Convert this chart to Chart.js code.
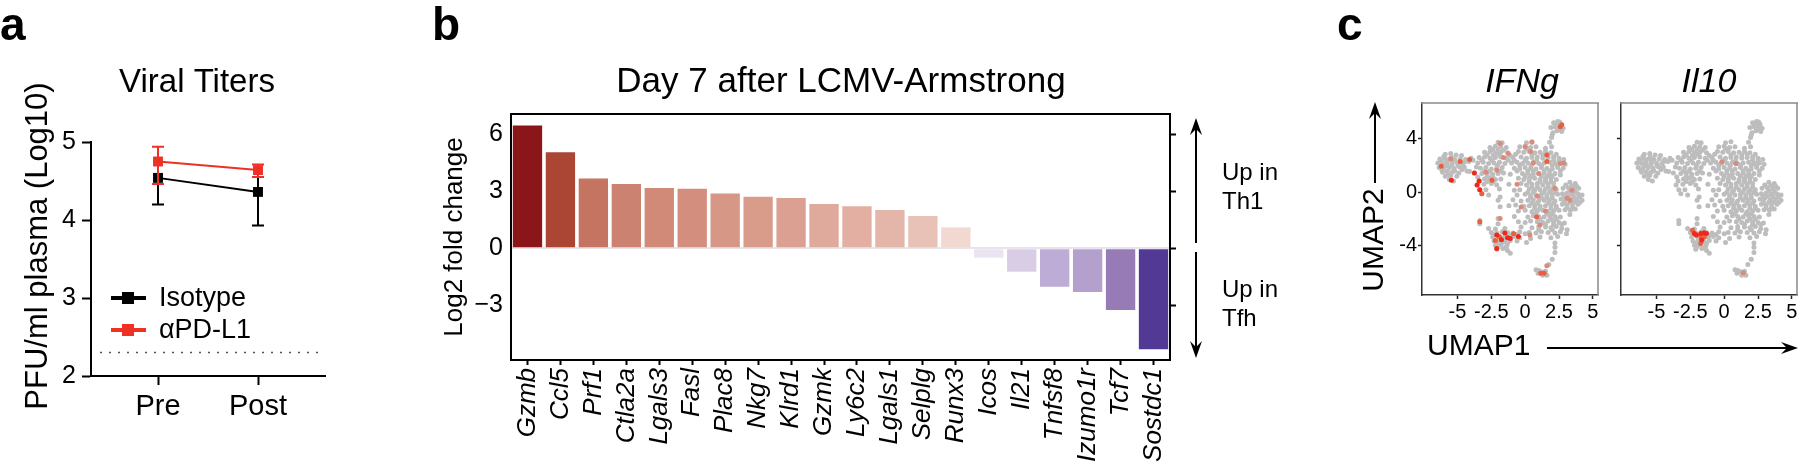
<!DOCTYPE html>
<html>
<head>
<meta charset="utf-8">
<script src="https://cdn.jsdelivr.net/npm/chart.js@4.4.1/dist/chart.umd.min.js"></script>
<style>
  html, body { margin: 0; padding: 0; background: #fff; overflow: hidden; }
  #page { position: relative; width: 1800px; height: 470px; }
  canvas { position: absolute; top: 0; }
</style>
</head>
<body>
<div id="page">
  <canvas id="chartA" width="340" height="470" style="left:0px"></canvas>
  <canvas id="chartB" width="900" height="470" style="left:430px"></canvas>
  <canvas id="chartC1" width="470" height="470" style="left:1330px"></canvas>
  <canvas id="chartC2" width="200" height="470" style="left:1610px"></canvas>
</div>
<script>
// ---- panel a: viral titers ----
const timePoints = ['Pre', 'Post'];
const isotypeMean = [4.54, 4.36];
const isotypeLow = [4.20, 3.93];
const isotypeHigh = [4.54, 4.55];
const antiPdl1Mean = [4.75, 4.64];
const antiPdl1Low = [4.46, 4.55];
const antiPdl1High = [4.94, 4.71];
const detectionLimit = 2.3;
const titerTicks = [2, 3, 4, 5];

// ---- panel b: log2 fold change Th1 vs Tfh ----
const genes = ['Gzmb', 'Ccl5', 'Prf1', 'Ctla2a', 'Lgals3', 'Fasl', 'Plac8', 'Nkg7', 'Klrd1', 'Gzmk',
  'Ly6c2', 'Lgals1', 'Selplg', 'Runx3', 'Icos', 'Il21', 'Tnfsf8', 'Izumo1r', 'Tcf7', 'Sostdc1'];
const log2fc = [6.47, 5.05, 3.67, 3.38, 3.17, 3.14, 2.88, 2.72, 2.65, 2.33,
  2.21, 2.02, 1.70, 1.10, -0.49, -1.23, -2.02, -2.30, -3.25, -5.32];
const barColors = ['#8A1619', '#AA4633', '#C47461', '#CC8270', '#D18A78', '#D38E7D', '#D69786', '#D99C8B', '#DBA092', '#DFAA9C',
  '#E2AFA2', '#E4B5A9', '#E8C1B7', '#F1D9D2', '#EAE4F0', '#D8CDE4', '#BDACD5', '#B4A0CC', '#977BB6', '#533996'];
const foldTicks = [-3, 0, 3, 6];

// ---- panel c: UMAP ----
const umapXTicks = [-5, -2.5, 0, 2.5, 5];
const umapYTicks = [-4, 0, 4];
const umapCells = [
  // left lobe
  [-5.9,2.85],[-5.5,2.9],[-5.1,2.8],[-4.7,2.75],
  [-6.3,2.5],[-5.95,2.55],[-5.6,2.5],[-5.2,2.45],[-4.8,2.5],[-4.4,2.45],[-4.0,2.55],
  [-6.45,2.2],[-6.1,2.15],[-5.75,2.2],[-5.4,2.1],[-5.0,2.2],[-4.6,2.15],[-4.15,2.3],[-3.85,2.4],
  [-6.35,1.85],[-6.0,1.8],[-5.6,1.85],[-5.25,1.8],[-4.85,1.9],[-4.5,1.9],
  [-6.1,1.5],[-5.75,1.55],[-5.4,1.5],[-4.9,1.45],[-4.3,1.6],
  [-5.9,1.2],[-5.5,1.25],[-5.05,1.2],[-5.6,0.95],[-5.3,0.85],
  [-6.2,2.35],[-5.8,2.35],[-5.35,2.3],[-4.95,2.0],[-5.45,2.65],[-6.15,1.65],[-5.8,2.0],[-5.2,1.6],[-4.65,1.7],[-5.7,1.3],[-6.0,2.7],[-4.45,2.3],
  // bridge
  [-3.75,1.45],[-4.1,1.55],[-3.5,1.15],[-3.55,0.55],[-3.35,0.2],[-3.2,-0.1],[-3.4,0.85],[-3.6,1.9],
  // main body
  [-2.0,3.75],[-1.7,3.7],[0.1,3.7],[0.5,3.78],
  [-2.6,3.35],[-2.2,3.45],[-1.8,3.4],[-1.4,3.35],[-0.4,3.4],[0.0,3.45],[0.4,3.35],[0.8,3.4],[1.5,3.3],[1.95,3.4],
  [-3.0,3.0],[-2.6,3.05],[-2.2,2.95],[-1.8,3.0],[-1.3,2.95],[-0.5,3.05],[-0.1,3.0],[0.3,3.05],[0.7,2.95],[1.1,3.0],[1.5,3.05],[1.9,2.95],[2.3,2.85],
  [-3.4,2.6],[-3.0,2.65],[-2.6,2.55],[-2.2,2.6],[-1.8,2.65],[-1.4,2.55],[-0.9,2.6],[-0.3,2.65],[0.1,2.55],[0.5,2.6],[0.9,2.65],[1.3,2.55],[1.7,2.6],[2.1,2.65],[2.5,2.55],[2.85,2.45],
  [-3.5,2.2],[-3.1,2.25],[-2.7,2.15],[-2.3,2.2],[-1.9,2.25],[-1.5,2.15],[-1.0,2.2],[-0.6,2.25],[-0.2,2.15],[0.2,2.2],[0.6,2.25],[1.0,2.15],[1.4,2.2],[1.8,2.25],[2.2,2.15],[2.6,2.2],[2.95,2.1],
  [-3.3,1.8],[-2.9,1.85],[-2.5,1.75],[-2.1,1.8],[-1.7,1.85],[-0.8,1.8],[-0.4,1.75],[0.0,1.85],[0.4,1.8],[0.8,1.75],[1.2,1.85],[1.6,1.8],[2.0,1.75],[2.4,1.85],[2.8,1.8],
  [-3.2,1.4],[-2.8,1.45],[-2.4,1.35],[-2.0,1.4],[-1.6,1.45],[-1.1,1.35],[-0.2,1.4],[0.2,1.45],[0.6,1.35],[1.0,1.4],[1.4,1.45],[1.8,1.35],[2.2,1.4],[2.6,1.3],
  [-3.0,1.0],[-2.6,1.05],[-2.2,0.95],[-1.8,1.0],[-0.5,1.05],[-0.1,0.95],[0.3,1.0],[0.7,1.05],[1.1,0.95],[1.5,1.0],[1.9,1.05],[2.3,0.95],
  [-3.05,0.6],[-2.5,0.65],[-2.1,0.55],[-1.2,0.6],[-0.3,0.65],[0.1,0.55],[0.5,0.6],[0.9,0.65],[1.3,0.55],[1.7,0.6],[2.1,0.65],
  [-2.9,0.2],[-1.9,0.25],[-0.8,0.15],[-0.4,0.2],[0.3,0.25],[0.7,0.15],[1.1,0.2],[1.5,0.25],[1.9,0.15],[2.3,0.2],
  [-2.7,-0.2],[-1.85,-0.35],[-0.6,-0.2],[0.0,-0.15],[0.4,-0.25],[0.8,-0.2],[1.2,-0.15],[1.6,-0.25],[2.0,-0.2],[2.4,-0.15],
  [-2.0,-0.6],[-0.9,-0.55],[-0.3,-0.65],[0.2,-0.6],[0.6,-0.55],[1.0,-0.65],[1.4,-0.6],[1.8,-0.55],[2.2,-0.65],
  [-1.85,-1.08],[-1.2,-1.0],[-0.7,-0.95],[-0.1,-1.05],[0.3,-1.0],[0.7,-0.95],[1.1,-1.05],[1.5,-1.0],[1.9,-0.95],[2.3,-1.05],
  [-0.5,-1.4],[0.0,-1.35],[0.5,-1.45],[0.9,-1.4],[1.3,-1.35],[1.7,-1.45],[2.1,-1.4],[2.5,-1.35],
  [-0.8,-1.8],[0.2,-1.85],[0.6,-1.75],[1.0,-1.8],[1.4,-1.85],[1.8,-1.75],[2.2,-1.8],[2.6,-1.85],
  [-0.5,-2.2],[0.0,-2.25],[0.4,-2.15],[0.9,-2.2],[1.3,-2.25],[1.7,-2.15],[2.1,-2.2],[2.5,-2.25],[2.9,-2.3],
  [-0.3,-2.6],[0.5,-2.65],[1.0,-2.55],[1.5,-2.6],[1.9,-2.65],[2.3,-2.55],[2.7,-2.7],[3.1,-2.8],
  [0.3,-3.0],[0.8,-3.05],[1.2,-2.95],[1.7,-3.0],[2.2,-3.05],[2.6,-2.95],[3.05,-3.1],
  [0.4,-3.45],[1.1,-3.35],[1.9,-3.4],[2.4,-3.3],[0.1,-3.75],[2.2,-3.8],
  [-2.4,3.2],[-2.0,3.2],[-1.6,3.15],[-2.8,2.8],[-2.35,2.8],[-1.95,2.85],[-1.1,2.75],[-0.7,2.85],[0.1,3.25],[0.5,2.8],[1.3,2.8],[1.7,2.85],
  [2.1,2.4],[2.5,2.35],[-3.2,2.4],[-2.45,2.4],[-2.05,2.0],[-1.25,2.4],[-0.8,2.4],[-0.4,2.0],[0.0,2.4],[0.45,2.0],[0.85,2.4],[1.2,2.0],[2.0,2.0],[2.4,2.0],
  [-3.0,1.6],[-2.6,1.6],[-1.8,1.6],[-0.6,1.6],[0.2,1.6],[0.6,1.6],[1.4,1.6],[1.8,1.6],[2.6,1.6],
  [-2.8,1.2],[-2.4,1.2],[0.0,1.2],[0.4,1.2],[1.2,1.2],[1.6,1.2],[2.0,1.2],[-2.8,0.8],[-2.35,0.8],[0.3,0.8],[1.1,0.8],[1.5,0.8],[1.9,0.8],
  [0.5,0.4],[0.9,0.4],[1.7,0.4],[2.1,0.4],[0.2,0.0],[0.6,0.0],[1.4,0.0],[1.8,0.0],[2.2,0.0],
  [0.4,-0.4],[1.2,-0.4],[1.6,-0.4],[2.0,-0.4],[0.5,-0.8],[0.9,-0.8],[1.7,-0.8],[2.1,-0.8],
  [0.7,-1.2],[1.1,-1.2],[1.9,-1.2],[2.3,-1.2],[0.8,-1.6],[1.6,-1.6],[2.0,-1.6],
  [1.1,-2.0],[1.9,-2.0],[2.3,-2.0],[1.5,-2.4],[2.1,-2.4],[2.7,-2.4],[1.0,-2.8],[2.0,-2.8],
  // right lobe
  [3.3,0.75],[3.7,0.65],[2.8,0.3],[3.2,0.35],[3.6,0.25],[3.95,0.3],
  [2.75,-0.1],[3.1,-0.05],[3.5,-0.15],[3.9,-0.1],[4.2,-0.2],
  [2.65,-0.5],[3.0,-0.45],[3.4,-0.55],[3.8,-0.5],[4.2,-0.6],
  [2.75,-0.9],[3.1,-0.95],[3.5,-0.85],[3.9,-0.9],[2.95,-1.3],[3.35,-1.35],[3.7,-1.25],[3.3,-1.65],
  [3.0,0.55],[3.45,0.5],[3.8,0.45],[3.3,0.1],[3.7,0.05],[2.9,-0.3],[3.2,-0.3],[3.6,-0.35],[4.0,-0.35],
  [2.9,-0.7],[3.3,-0.75],[3.7,-0.7],[4.05,-0.75],[3.1,-1.15],[3.5,-1.1],
  // top-right arm
  [1.8,3.75],[1.95,4.1],[2.05,4.45],[1.9,4.85],[2.1,5.2],[2.4,5.3],[2.65,5.1],[2.8,4.8],[2.5,4.9],[2.2,4.9],[2.35,4.6],[2.7,4.55],[2.55,5.25],[2.0,4.3],
  [2.3,5.1],[2.6,4.7],
  // lower-left cluster
  [-2.0,-1.95],[-2.0,-2.35],[-3.35,-2.1],[-3.35,-2.35],
  [-2.7,-2.7],[-2.2,-2.75],[-1.5,-2.7],
  [-2.5,-3.0],[-2.1,-3.05],[-1.7,-2.95],[-1.3,-3.0],[-0.9,-3.05],[-0.4,-2.95],[0.0,-3.1],
  [-2.4,-3.35],[-2.0,-3.3],[-1.6,-3.4],[-1.2,-3.35],[-0.8,-3.3],[-0.4,-3.4],
  [-2.3,-3.65],[-1.9,-3.6],[-1.5,-3.7],[-1.1,-3.6],[-0.6,-3.65],
  [-2.2,-3.95],[-1.8,-3.9],[-1.35,-4.0],[-2.1,-4.25],[-1.65,-4.2],[-1.3,-4.35],[-1.1,-4.55],
  [-2.3,-3.2],[-1.9,-3.45],[-1.45,-3.2],[-1.0,-3.2],[-0.6,-3.15],[-2.1,-3.8],[-1.7,-3.75],[-1.3,-3.8],[-2.0,-4.05],[-1.5,-4.15],
  // bottom tail
  [2.2,-4.1],[2.2,-4.5],[2.0,-5.0],[1.75,-5.4],[0.8,-5.8],[1.0,-5.85],[1.2,-5.95],[1.4,-6.05],[1.6,-6.2],[0.95,-6.05],[1.3,-6.2],[1.5,-5.9]
];
const ifngStrong = [[-3.55,0.55],[-3.4,0.85],[-3.35,0.2],[-3.75,1.45],[-5.45,0.9],[-2.1,-4.2],[-1.5,-3.05],[-1.1,-3.45],[-0.5,-3.3],[-1.75,-3.55],[-2.1,-3.2],[-1.3,-3.4]];
const ifngMid = [[-3.35,-2.2],[-3.2,-0.1],[1.6,2.8],[1.6,2.3],[2.6,4.9],[2.7,5.05],[0.85,-1.85],[-1.9,-3.3],[-0.85,-3.1],[-2.2,-3.6],[-6.2,1.95],[-4.1,2.45],[-4.8,2.3],[1.15,-6.05],[1.4,-6.05],[-2.45,0.9]];
const ifngWeak = [[-1.85,3.66],[-1.25,2.9],[0.0,3.4],[0.4,3.05],[0.5,3.75],[2.6,2.15],[2.85,2.2],[3.1,-0.45],[3.45,0.15],[3.3,-0.6],[-2.1,1.65],[-1.85,-1.95],[1.1,-2.45],[0.35,-3.2],[1.6,-5.5],[-0.3,-1.1],[0.9,-0.3],[-5.5,2.5],[-2.9,1.5],[-1.6,2.6],[1.0,1.4],[2.2,0.3],[-0.6,0.6],[1.5,-1.4],[0.6,2.2]];
const il10Strong = [[-2.2,-3.08],[-2.05,-3.2],[-1.73,-3.08],[-1.48,-3.03],[-1.31,-3.08],[-1.66,-3.57]];
const il10Mid = [[-1.73,-3.82],[-2.35,-2.83],[-1.48,-3.37],[-1.7,-3.35]];
const il10Weak = [[-0.17,2.29],[0.86,2.16],[1.41,-6.02]];

const FONT = "'Liberation Sans', Arial, Helvetica, sans-serif";
Chart.defaults.font.family = FONT;
Chart.defaults.color = '#000';
Chart.defaults.animation = false;
Chart.defaults.plugins.legend.display = false;
Chart.defaults.plugins.tooltip.enabled = false;

const fixTicks = list => scale => { scale.ticks = list.map(v => ({ value: v })); };
const toPoints = arr => arr.map(([x, y]) => ({ x, y }));

// free text, arrows, legend and frame edges, given in page coordinates
function annotations(ox, items) {
  return {
    id: 'annotations',
    afterDraw(chart) {
      const ctx = chart.ctx, area = chart.chartArea;
      for (const it of items) {
        ctx.save();
        if (it.type === 'text') {
          ctx.font = `${it.style || 'normal'} ${it.weight || 'normal'} ${it.size}px ${FONT}`;
          ctx.fillStyle = '#000';
          ctx.textAlign = it.align || 'center';
          ctx.textBaseline = it.baseline || 'middle';
          ctx.translate(it.x - ox, it.y);
          if (it.rot) ctx.rotate(it.rot);
          ctx.fillText(it.text, 0, 0);
        } else if (it.type === 'arrow') {
          const x1 = it.x1 - ox, x2 = it.x2 - ox, y1 = it.y1, y2 = it.y2;
          const a = Math.atan2(y2 - y1, x2 - x1), len = 17, w = 6;
          ctx.strokeStyle = '#000'; ctx.fillStyle = '#000'; ctx.lineWidth = 2;
          ctx.beginPath();
          ctx.moveTo(x1, y1);
          ctx.lineTo(x2 - Math.cos(a) * 8, y2 - Math.sin(a) * 8);
          ctx.stroke();
          ctx.translate(x2, y2); ctx.rotate(a);
          ctx.beginPath();
          ctx.moveTo(0, 0); ctx.lineTo(-len, -w); ctx.lineTo(-len * 0.65, 0); ctx.lineTo(-len, w);
          ctx.closePath(); ctx.fill();
        } else if (it.type === 'edges') {
          ctx.strokeStyle = it.color; ctx.lineWidth = it.width;
          ctx.beginPath();
          if (it.sides.includes('top')) { ctx.moveTo(area.left - 1, area.top); ctx.lineTo(area.right + 1, area.top); }
          if (it.sides.includes('right')) { ctx.moveTo(area.right, area.top); ctx.lineTo(area.right, area.bottom); }
          ctx.stroke();
        } else if (it.type === 'legend') {
          const ds = chart.data.datasets[it.index];
          ctx.strokeStyle = ds.borderColor; ctx.fillStyle = ds.borderColor; ctx.lineWidth = 4;
          ctx.beginPath(); ctx.moveTo(it.x - ox, it.y); ctx.lineTo(it.x + 35 - ox, it.y); ctx.stroke();
          ctx.fillRect(it.x + 11 - ox, it.y - 6, 12, 12);
          ctx.fillStyle = '#000';
          ctx.font = `27px ${FONT}`;
          ctx.textAlign = 'left'; ctx.textBaseline = 'middle';
          ctx.fillText(ds.label, it.x + 48 - ox, it.y + 1);
        }
        ctx.restore();
      }
    }
  };
}

const errorBars = {
  id: 'errorBars',
  afterDatasetDraw(chart, args) {
    const ds = chart.data.datasets[args.index];
    if (!ds.errLow) return;
    const ctx = chart.ctx, y = chart.scales.y;
    ctx.save();
    ctx.strokeStyle = ds.borderColor;
    ctx.lineWidth = 2;
    args.meta.data.forEach((pt, i) => {
      const lo = y.getPixelForValue(ds.errLow[i]);
      const hi = y.getPixelForValue(ds.errHigh[i]);
      ctx.beginPath();
      ctx.moveTo(pt.x, lo); ctx.lineTo(pt.x, hi);
      if (ds.errLow[i] < ds.data[i].y) { ctx.moveTo(pt.x - 6, lo); ctx.lineTo(pt.x + 6, lo); }
      if (ds.errHigh[i] > ds.data[i].y) { ctx.moveTo(pt.x - 6, hi); ctx.lineTo(pt.x + 6, hi); }
      ctx.stroke();
    });
    ctx.restore();
  }
};

const axisLine = { color: '#000', width: 2 };
const tickGrid = len => ({ drawOnChartArea: false, tickLength: len, tickWidth: 2, tickColor: '#000' });

// ---------- panel a ----------
new Chart(document.getElementById('chartA'), {
  type: 'line',
  data: {
    datasets: [
      {
        label: 'αPD-L1',
        data: timePoints.map((t, i) => ({ x: i + 1, y: antiPdl1Mean[i] })),
        errLow: antiPdl1Low, errHigh: antiPdl1High,
        borderColor: '#EE3124', backgroundColor: '#EE3124',
        borderWidth: 2, pointStyle: 'rect', pointRadius: 7, pointBorderWidth: 0
      },
      {
        label: 'Isotype',
        data: timePoints.map((t, i) => ({ x: i + 1, y: isotypeMean[i] })),
        errLow: isotypeLow, errHigh: isotypeHigh,
        borderColor: '#000', backgroundColor: '#000',
        borderWidth: 2, pointStyle: 'rect', pointRadius: 7, pointBorderWidth: 0
      },
      {
        label: 'Limit of detection',
        data: [{ x: 0.42, y: detectionLimit }, { x: 2.67, y: detectionLimit }],
        borderColor: '#555', borderWidth: 1.5, borderDash: [2, 7], pointRadius: 0
      }
    ]
  },
  options: {
    responsive: false,
    devicePixelRatio: 1,
    layout: { padding: { top: 142, right: 15, left: 0, bottom: 0 } },
    scales: {
      x: {
        type: 'linear', min: 0.33, max: 2.67,
        afterBuildTicks: fixTicks([1, 2]),
        ticks: { callback: v => timePoints[v - 1], font: { size: 29 }, padding: 5 },
        grid: tickGrid(9), border: axisLine,
        afterFit: s => { s.height = 94; }
      },
      y: {
        min: 2, max: 5,
        afterBuildTicks: fixTicks(titerTicks),
        ticks: { font: { size: 25 }, padding: 6 },
        grid: tickGrid(9), border: axisLine,
        afterFit: s => { s.width = 91; }
      }
    }
  },
  plugins: [errorBars, annotations(0, [
    { type: 'text', text: 'a', x: 0, y: 40, size: 46, weight: 'bold', align: 'left', baseline: 'alphabetic' },
    { type: 'text', text: 'Viral Titers', x: 197, y: 92, size: 33, baseline: 'alphabetic' },
    { type: 'text', text: 'PFU/ml plasma (Log10)', x: 38, y: 246, size: 31, rot: -Math.PI / 2 },
    { type: 'legend', index: 1, x: 111, y: 298 },
    { type: 'legend', index: 0, x: 111, y: 330 }
  ])]
});

// ---------- panel b ----------
new Chart(document.getElementById('chartB'), {
  type: 'bar',
  data: {
    labels: genes,
    datasets: [{ data: log2fc, backgroundColor: barColors, barPercentage: 0.89, categoryPercentage: 1.0 }]
  },
  options: {
    responsive: false,
    devicePixelRatio: 1,
    layout: { padding: { top: 114, right: 154, left: 0, bottom: 0 } },
    scales: {
      x: {
        grid: { offset: false, drawOnChartArea: false, tickLength: 5, tickWidth: 2, tickColor: '#000' },
        border: axisLine,
        ticks: { autoSkip: false, minRotation: 90, maxRotation: 90, padding: 3, font: { size: 26, style: 'italic' } },
        afterFit: s => { s.height = 110; }
      },
      y: {
        min: -5.88, max: 7.07,
        afterBuildTicks: fixTicks(foldTicks),
        ticks: { callback: v => (v < 0 ? '\u2212' + Math.abs(v) : String(v)), font: { size: 25 }, padding: 8 },
        grid: { drawTicks: false, lineWidth: 2, color: c => (c.tick && c.tick.value === 0 ? '#E8E3EC' : 'rgba(0,0,0,0)') },
        border: axisLine,
        title: { display: true, text: 'Log2 fold change', font: { size: 26 }, padding: { top: 9, bottom: 0 } },
        afterFit: s => { s.width = 81; }
      },
      y2: {
        position: 'right', min: -5.88, max: 7.07,
        afterBuildTicks: fixTicks(foldTicks),
        ticks: { display: false },
        grid: tickGrid(6), border: axisLine,
        afterFit: s => { s.width = 6; }
      }
    }
  },
  plugins: [annotations(430, [
    { type: 'edges', sides: ['top'], color: '#000', width: 2 },
    { type: 'text', text: 'b', x: 432, y: 40, size: 46, weight: 'bold', align: 'left', baseline: 'alphabetic' },
    { type: 'text', text: 'Day 7 after LCMV-Armstrong', x: 841, y: 92, size: 35, baseline: 'alphabetic' },
    { type: 'arrow', x1: 1196, y1: 243, x2: 1196, y2: 118 },
    { type: 'arrow', x1: 1196, y1: 252, x2: 1196, y2: 358 },
    { type: 'text', text: 'Up in', x: 1222, y: 173, size: 24, align: 'left' },
    { type: 'text', text: 'Th1', x: 1222, y: 202, size: 24, align: 'left' },
    { type: 'text', text: 'Up in', x: 1222, y: 290, size: 24, align: 'left' },
    { type: 'text', text: 'Tfh', x: 1222, y: 319, size: 24, align: 'left' }
  ])]
});

// ---------- panel c ----------
function umapChart(id, ox, padRight, leftWidth, showYLabels, layers, items) {
  const colors = ['#F0281A', '#E8603F', '#DA8B7B', '#BDBDBD'];
  return new Chart(document.getElementById(id), {
    type: 'scatter',
    data: {
      datasets: layers.map((pts, i) => ({
        data: toPoints(pts), backgroundColor: colors[i], order: i + 1,
        pointRadius: 2.5, pointBorderWidth: 0
      }))
    },
    options: {
      responsive: false,
      devicePixelRatio: 1,
      layout: { padding: { top: 103, right: padRight, left: 0, bottom: 0 } },
      scales: {
        x: {
          type: 'linear', min: -7.62, max: 5.38,
          afterBuildTicks: fixTicks(umapXTicks),
          ticks: { callback: v => String(v), font: { size: 20 }, padding: 1 },
          grid: { drawOnChartArea: false, tickLength: 4, tickWidth: 1.5, tickColor: '#222' },
          border: { color: '#333', width: 1.5 },
          afterFit: s => { s.height = 175; }
        },
        y: {
          min: -7.68, max: 6.68,
          afterBuildTicks: fixTicks(umapYTicks),
          ticks: { display: showYLabels, callback: v => String(v), font: { size: 20 }, padding: 1 },
          grid: { drawOnChartArea: false, tickLength: 4, tickWidth: 1.5, tickColor: '#222' },
          border: { color: '#333', width: 1.5 },
          afterFit: s => { s.width = leftWidth; }
        }
      }
    },
    plugins: [annotations(ox, [{ type: 'edges', sides: ['top', 'right'], color: '#8A8A8A', width: 1.5 }].concat(items))]
  });
}

umapChart('chartC1', 1330, 202, 92, true, [ifngStrong, ifngMid, ifngWeak, umapCells], [
  { type: 'text', text: 'c', x: 1337, y: 40, size: 46, weight: 'bold', align: 'left', baseline: 'alphabetic' },
  { type: 'text', text: 'IFNg', x: 1522, y: 92, size: 34, style: 'italic', baseline: 'alphabetic' },
  { type: 'text', text: 'Il10', x: 1709, y: 92, size: 34, style: 'italic', baseline: 'alphabetic' },
  { type: 'text', text: 'UMAP2', x: 1375, y: 240, size: 30, rot: -Math.PI / 2 },
  { type: 'arrow', x1: 1375, y1: 183, x2: 1375, y2: 102 },
  { type: 'text', text: 'UMAP1', x: 1427, y: 347, size: 30, align: 'left' },
  { type: 'arrow', x1: 1547, y1: 348, x2: 1798, y2: 348 }
]);

umapChart('chartC2', 1610, 13, 11, false, [il10Strong, il10Mid, il10Weak, umapCells], []);
</script>
</body>
</html>
